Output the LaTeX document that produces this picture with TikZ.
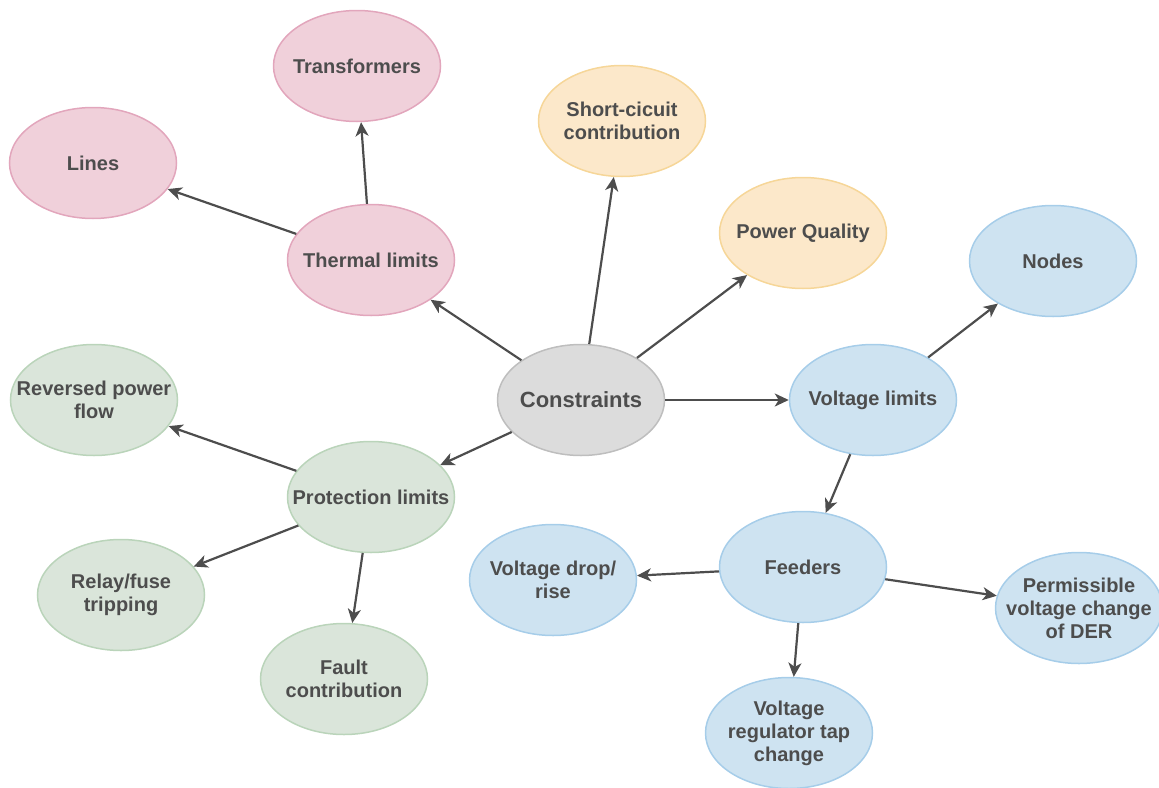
\documentclass[tikz,border=0pt]{standalone}
\usepackage{fontspec}
\setmainfont{Liberation Sans}
\usetikzlibrary{shapes.geometric, arrows.meta}

\definecolor{txtgray}{HTML}{4D4D4D}
\definecolor{pinkfill}{HTML}{F0D0DA}
\definecolor{pinkline}{HTML}{E2A6BC}
\definecolor{yellowfill}{HTML}{FCE8CA}
\definecolor{yellowline}{HTML}{F6D698}
\definecolor{bluefill}{HTML}{CEE3F1}
\definecolor{blueline}{HTML}{A6CDE9}
\definecolor{greenfill}{HTML}{DAE5DA}
\definecolor{greenline}{HTML}{BAD4BA}
\definecolor{grayfill}{HTML}{DCDCDC}
\definecolor{grayline}{HTML}{BEBEBE}

\begin{document}
\begin{tikzpicture}[
    x=1pt, y=-1pt,
    topic/.style={ellipse, draw, line width=1.5pt, minimum width=167pt, minimum height=111pt,
        inner xsep=-60pt, inner ysep=-30pt, align=center, text=txtgray,
        font=\bfseries\fontsize{20}{23}\selectfont},
    thermalc/.style={topic, fill=pinkfill, draw=pinkline},
    shortc/.style={topic, fill=yellowfill, draw=yellowline},
    voltc/.style={topic, fill=bluefill, draw=blueline},
    protc/.style={topic, fill=greenfill, draw=greenline},
    link/.style={-{Stealth[length=14pt, width=13pt, inset=4pt]}, line width=2.2pt, txtgray}
]
    \useasboundingbox (0,0) rectangle (1159,787);

    % Centre
    \node[topic, fill=grayfill, draw=grayline, font=\bfseries\fontsize{22}{25}\selectfont] (constraints) at (581,400) {Constraints};

    % Thermal branch
    \node[thermalc] (thermal) at (371,260) {Thermal limits};
    \node[thermalc] (transformers) at (357,66) {Transformers};
    \node[thermalc] (lines) at (93,163) {Lines};

    % Short circuit and power quality
    \node[shortc] (shortcircuit) at (622,121) {Short-cicuit\\contribution};
    \node[shortc] (quality) at (803,233) {Power Quality};

    % Voltage branch
    \node[voltc] (voltage) at (873,400) {Voltage limits};
    \node[voltc] (nodes) at (1053,261) {Nodes};
    \node[voltc] (feeders) at (803,567) {Feeders};
    \node[voltc] (droprise) at (553,580) {Voltage drop/\\rise};
    \node[voltc] (der) at (1079,608) {Permissible\\voltage change\\of DER};
    \node[voltc] (regulator) at (789,733) {Voltage\\regulator tap\\change};

    % Protection branch
    \node[protc] (protection) at (371,497) {Protection limits};
    \node[protc] (reversed) at (94,400) {Reversed power\\flow};
    \node[protc] (relay) at (121,595) {Relay/fuse\\tripping};
    \node[protc] (fault) at (344,679) {Fault\\contribution};

    % Connectors
    \foreach \a/\b in {constraints/thermal, constraints/shortcircuit, constraints/quality,
        constraints/voltage, constraints/protection, thermal/transformers, thermal/lines,
        voltage/nodes, voltage/feeders, feeders/droprise, feeders/der, feeders/regulator,
        protection/reversed, protection/relay, protection/fault}
        \draw[link] (\a) -- (\b);
\end{tikzpicture}
\end{document}
